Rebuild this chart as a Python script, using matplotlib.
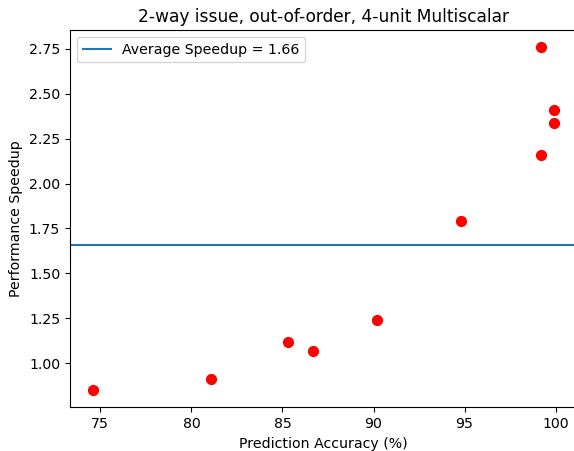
import matplotlib
matplotlib.use("Agg")
import matplotlib.pyplot as plt

# prediction accuracy (%) and speedup for each benchmark
accuracy = [74.6, 81.1, 85.3, 86.7, 90.2, 94.8, 99.2, 99.2, 99.9, 99.9]
speedup = [0.85, 0.91, 1.12, 1.07, 1.24, 1.79, 2.16, 2.76, 2.41, 2.34]
avg_speedup = 1.66

plt.rcParams["font.size"] = 10.2

fig = plt.figure(figsize=(5.74, 4.51), dpi=100)
# right spine sits just past the image edge, as in the reference crop
ax = fig.add_axes([0.122, 0.097, 0.883, 0.8366])

ax.scatter(accuracy, speedup, color="red", s=50)
ax.axhline(avg_speedup, label=f"Average Speedup = {avg_speedup:.2f}")

ax.set_title("2-way issue, out-of-order, 4-unit Multiscalar", fontsize=12.25)
ax.set_xlabel("Prediction Accuracy (%)")
ax.set_ylabel("Performance Speedup")
ax.legend(loc="upper left")

fig.savefig("out.png", dpi=100)
